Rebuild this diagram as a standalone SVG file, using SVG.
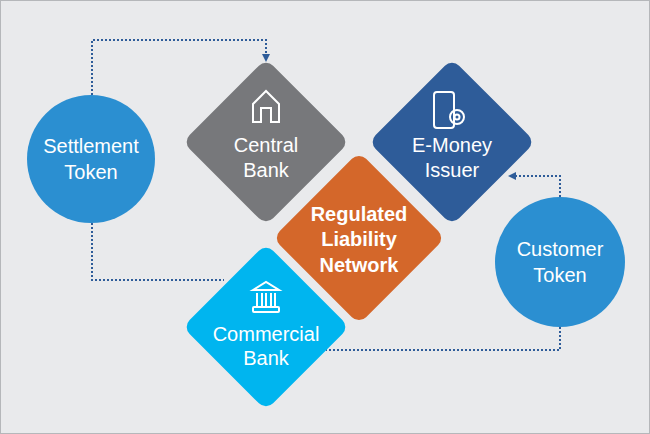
<svg xmlns="http://www.w3.org/2000/svg" width="650" height="434" viewBox="0 0 650 434">
<style>
.t{font-family:"Liberation Sans",Arial,sans-serif;fill:#fff;text-anchor:middle;font-size:20px}
.b{font-weight:bold}
.c{fill:none;stroke:#2e5c99;stroke-width:2;stroke-dasharray:2 2}
.i{fill:none;stroke:#fff;stroke-width:2}
</style>
<defs><marker id="a" markerWidth="8" markerHeight="8" refX="6" refY="4" orient="auto" markerUnits="userSpaceOnUse"><path d="M0,0 L8,4 L0,8 Z" fill="#2e5c99"/></marker></defs>
<rect x="0.5" y="0.5" width="649" height="433" fill="#e9eaec" stroke="#b5b7ba"/>
<g id="connectors">
<path class="c" d="M92,95 V40 H266 V60" marker-end="url(#a)"/>
<path class="c" d="M92,223 V280 H224"/>
<path class="c" d="M560,197 V176 H510" marker-end="url(#a)"/>
<path class="c" d="M560,327 V350 H326"/>
</g>
<g id="central-bank">
<rect x="-59" y="-59" width="118" height="118" rx="10" fill="#77787b" transform="translate(266,142) rotate(45)"/>
<path class="i" d="M253,122 V104 L266,91 L279,104 V122 H271 V108 H261 V122 Z"/>
<text class="t" x="266" y="152">Central</text><text class="t" x="266" y="177">Bank</text>
</g>
<g id="emoney-issuer">
<rect x="-59" y="-59" width="118" height="118" rx="10" fill="#2e5c99" transform="translate(452,142) rotate(45)"/>
<rect class="i" x="434" y="92" width="20" height="36" rx="3"/>
<circle class="i" cx="457" cy="117" r="7"/><circle class="i" cx="457" cy="117" r="2.5"/>
<text class="t" x="452" y="152">E-Money</text><text class="t" x="452" y="177">Issuer</text>
</g>
<g id="regulated-liability-network">
<rect x="-61" y="-61" width="122" height="122" rx="10" fill="#d4672a" transform="translate(359,238) rotate(45)"/>
<text class="t b" x="359" y="221">Regulated</text><text class="t b" x="359" y="246">Liability</text><text class="t b" x="359" y="272">Network</text>
</g>
<g id="commercial-bank">
<rect x="-59" y="-59" width="118" height="118" rx="10" fill="#00b5ef" transform="translate(266,327) rotate(45)"/>
<path class="i" d="M253,290 L266,282 L279,290 Z M257,293 V306 M262,293 V306 M266,293 V306 M271,293 V306 M275,293 V306"/>
<rect class="i" x="253" y="307" width="26" height="5" rx="1"/>
<text class="t" x="266" y="341">Commercial</text><text class="t" x="266" y="365">Bank</text>
</g>
<g id="settlement-token">
<circle cx="91" cy="159" r="64" fill="#2b8fd1"/>
<text class="t" x="91" y="153">Settlement</text><text class="t" x="91" y="179">Token</text>
</g>
<g id="customer-token">
<circle cx="560" cy="262" r="65" fill="#2b8fd1"/>
<text class="t" x="560" y="256">Customer</text><text class="t" x="560" y="282">Token</text>
</g>
</svg>
